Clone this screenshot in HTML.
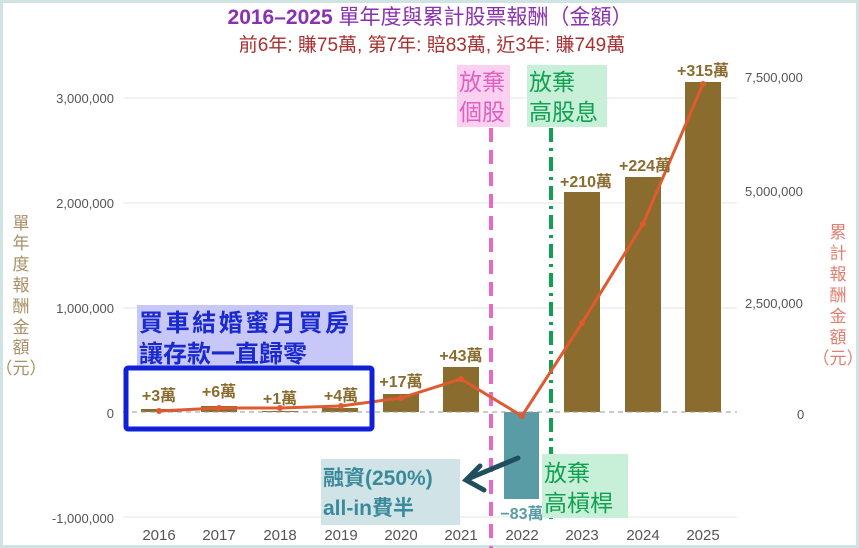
<!DOCTYPE html>
<html><head><meta charset="utf-8"><style>
html,body{margin:0;padding:0;background:#fff}
svg{display:block}
text{font-family:"Liberation Sans","Noto Sans CJK TC",sans-serif}
</style></head><body>
<svg width="859" height="548" viewBox="0 0 859 548" xmlns="http://www.w3.org/2000/svg">
<rect x="1.5" y="1.5" width="856" height="545" fill="#fff" stroke="#cfe3e3" stroke-width="3"/>
<text x="430" y="24" text-anchor="middle" font-size="21" fill="#8a30b0"><tspan font-weight="bold">2016–2025</tspan> 單年度與累計股票報酬（金額）</text>
<text x="432" y="51" text-anchor="middle" font-size="19" fill="#a83030">前6年: 賺75萬, 第7年: 賠83萬, 近3年: 賺749萬</text>
<g stroke="#e6e6e6" stroke-width="1">
<line x1="123" y1="98" x2="737" y2="98"/>
<line x1="123" y1="203" x2="737" y2="203"/>
<line x1="123" y1="308" x2="737" y2="308"/>
<line x1="123" y1="517" x2="737" y2="517"/>
</g>
<g font-size="13" fill="#555" text-anchor="end">
<text x="114" y="103">3,000,000</text>
<text x="114" y="208">2,000,000</text>
<text x="114" y="313">1,000,000</text>
<text x="114" y="418">0</text>
<text x="114" y="523">-1,000,000</text>
</g>
<g font-size="13" fill="#555">
<text x="745" y="82">7,500,000</text>
<text x="745" y="196">5,000,000</text>
<text x="745" y="308">2,500,000</text>
<text x="797" y="419">0</text>
</g>
<g font-size="17" fill="#a89068" text-anchor="middle" font-family="Liberation Serif,'Noto Serif CJK SC',serif">
<text x="21" y="229">單</text><text x="21" y="249">年</text><text x="21" y="270">度</text><text x="21" y="291">報</text><text x="21" y="312">酬</text><text x="21" y="333">金</text><text x="21" y="353">額</text><text x="21" y="374">（元）</text>
</g>
<g font-size="17" fill="#e08070" text-anchor="middle" font-family="Liberation Serif,'Noto Serif CJK SC',serif">
<text x="838" y="238">累</text><text x="838" y="259">計</text><text x="838" y="280">報</text><text x="838" y="301">酬</text><text x="838" y="322">金</text><text x="838" y="343">額</text><text x="838" y="364">（元）</text>
</g>
<g fill="#8a6c2e">
<rect x="141" y="409" width="36" height="3"/>
<rect x="201" y="406" width="36" height="6"/>
<rect x="262" y="411" width="36" height="1"/>
<rect x="322" y="408" width="36" height="4"/>
<rect x="383" y="394" width="36" height="18"/>
<rect x="443" y="367" width="36" height="45"/>
<rect x="564" y="192" width="36" height="220"/>
<rect x="625" y="177" width="36" height="235"/>
<rect x="685" y="82" width="36" height="330"/>
</g>
<rect x="504" y="412" width="35" height="87" fill="#5a9ca6"/>
<line x1="123" y1="412" x2="737" y2="412" stroke="#999" stroke-width="1" stroke-dasharray="5,4"/>
<line x1="491" y1="128" x2="491" y2="548" stroke="#e868c8" stroke-width="4" stroke-dasharray="14,8"/>
<line x1="551" y1="128" x2="551" y2="520" stroke="#10a050" stroke-width="4" stroke-dasharray="14,6,3,6"/>
<polyline fill="none" stroke="#e05a30" stroke-width="3" points="159,411 219,408 280,408 341,406 401,398 461,379 522,416 582,323 643,224 703,84"/>
<g fill="#e05a30">
<circle cx="159" cy="411" r="3"/><circle cx="219" cy="408" r="3"/><circle cx="280" cy="408" r="3"/><circle cx="341" cy="406" r="3"/><circle cx="401" cy="398" r="3"/><circle cx="461" cy="379" r="3"/><circle cx="522" cy="416" r="3"/><circle cx="582" cy="323" r="3"/><circle cx="643" cy="224" r="3"/><circle cx="703" cy="84" r="3"/>
</g>
<g font-size="16" fill="#8a6c2e" font-weight="bold" text-anchor="middle">
<text x="159" y="401">+3萬</text><text x="219" y="397">+6萬</text><text x="280" y="404">+1萬</text><text x="341" y="401">+4萬</text>
<text x="401" y="387">+17萬</text><text x="461" y="361">+43萬</text>
<text x="586" y="187">+210萬</text><text x="645" y="171">+224萬</text><text x="703" y="76">+315萬</text>
</g>
<text x="522" y="519" font-size="16" fill="#5a9ca6" font-weight="bold" text-anchor="middle">−83萬</text>
<g font-size="15" fill="#555" text-anchor="middle">
<text x="159" y="540">2016</text><text x="219" y="540">2017</text><text x="280" y="540">2018</text><text x="341" y="540">2019</text><text x="401" y="540">2020</text><text x="461" y="540">2021</text><text x="522" y="540">2022</text><text x="582" y="540">2023</text><text x="643" y="540">2024</text><text x="703" y="540">2025</text>
</g>
<rect x="457" y="65" width="53" height="62" fill="#fbd0f0"/>
<text x="459" y="90" font-size="23" fill="#e060c0">放棄</text>
<text x="459" y="120" font-size="23" fill="#e060c0">個股</text>
<rect x="527" y="65" width="80" height="62" fill="#c8f0d8"/>
<text x="529" y="90" font-size="23" fill="#10a050">放棄</text>
<text x="529" y="120" font-size="23" fill="#10a050">高股息</text>
<rect x="542" y="454" width="86" height="64" fill="#c8f0d8"/>
<text x="544" y="481" font-size="23" fill="#10a050">放棄</text>
<text x="544" y="511" font-size="23" fill="#10a050">高槓桿</text>
<rect x="137" y="305" width="216" height="64" fill="#c8c8f8"/>
<text x="139" y="331" font-size="24" font-weight="bold" fill="#1a2ad0" textLength="210">買車結婚蜜月買房</text>
<text x="139" y="362" font-size="24" font-weight="bold" fill="#1a2ad0">讓存款一直歸零</text>
<rect x="126" y="368" width="246" height="61" fill="none" stroke="#1020d8" stroke-width="5" rx="2"/>
<rect x="321" y="459" width="139" height="66" fill="#d0e4e8"/>
<text x="323" y="485" font-size="21" font-weight="bold" fill="#3a8a9a">融資(250%)</text>
<text x="323" y="515" font-size="21" font-weight="bold" fill="#3a8a9a">all-in費半</text>
<g stroke="#1f4f5f" stroke-width="5" fill="none" stroke-linecap="round">
<line x1="518" y1="458" x2="470" y2="478"/>
<polyline points="480,466 466,480 484,490"/>
</g>
</svg>
</body></html>
